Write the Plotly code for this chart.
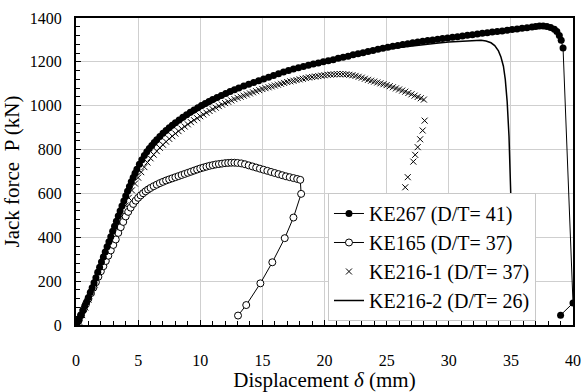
import plotly.graph_objects as go

# ---- data ----
ke267_x = [0, 0.1, 0.25, 0.4, 0.55, 0.7, 0.85, 1.0, 1.15, 1.3, 1.45, 1.6, 1.75, 1.9, 2.05, 2.2, 2.35, 2.5,
           2.65, 2.8, 2.95, 3.1, 3.25, 3.4, 3.55, 3.7, 3.85, 4.0, 4.15, 4.3, 4.45, 4.6, 4.75, 4.9, 5.1, 5.3,
           5.5, 5.7, 5.9, 6.1, 6.3, 6.5, 6.75, 7.0, 7.25, 7.5, 7.75, 8.0, 8.3, 8.6, 8.9, 9.2, 9.5, 9.8, 10.1,
           10.4, 10.7, 11.0, 11.35, 11.7, 12.05, 12.4, 12.75, 13.1, 13.5, 13.9, 14.3, 14.7, 15.1, 15.5, 15.9,
           16.3, 16.7, 17.1, 17.5, 17.9, 18.3, 18.7, 19.1, 19.5, 19.9, 20.3, 20.7, 21.1, 21.5, 21.9, 22.3,
           22.7, 23.1, 23.5, 23.9, 24.3, 24.7, 25.1, 25.5, 25.9, 26.3, 26.7, 27.1, 27.5, 27.9, 28.3, 28.7,
           29.1, 29.5, 29.9, 30.3, 30.7, 31.1, 31.5, 31.9, 32.3, 32.7, 33.1, 33.5, 33.9, 34.3, 34.7, 35.1,
           35.5, 35.9, 36.3, 36.7, 37.0, 37.3, 37.6, 37.9, 38.2, 38.5, 38.7, 38.9, 39.05, 39.2, 40.0, 39.0]
ke267_y = [0, 10, 25, 45, 65, 85, 105, 125, 148, 170, 193, 216, 240, 263, 287, 310, 333, 357,
           380, 403, 427, 450, 473, 497, 520, 543, 566, 588, 610, 632, 653, 673, 692, 710, 733, 754,
           773, 790, 805, 819, 832, 845, 860, 874, 887, 899, 911, 922, 935, 947, 959, 970, 981, 991, 1001,
           1010, 1019, 1028, 1038, 1047, 1056, 1065, 1073, 1081, 1090, 1098, 1106, 1114, 1122, 1130, 1138,
           1146, 1154, 1161, 1167, 1173, 1179, 1185, 1190, 1195, 1200, 1205, 1210, 1216, 1221, 1226, 1232,
           1237, 1242, 1247, 1252, 1257, 1262, 1267, 1271, 1275, 1279, 1283, 1287, 1290, 1294, 1297, 1300,
           1303, 1306, 1309, 1312, 1315, 1318, 1321, 1324, 1327, 1330, 1333, 1336, 1339, 1341, 1344, 1347,
           1350, 1353, 1356, 1359, 1361, 1363, 1363, 1361, 1357, 1349, 1338, 1320, 1298, 1263, 100, 45]

ke165_x = [0, 0.2, 0.4, 0.6, 0.8, 1.0, 1.2, 1.4, 1.6, 1.8, 2.0, 2.2, 2.4, 2.6, 2.8, 3.0, 3.2, 3.4, 3.6, 3.8,
           4.0, 4.2, 4.4, 4.6, 4.8, 5.0, 5.2, 5.4, 5.6, 5.8, 6.0, 6.25, 6.5, 6.75, 7.0, 7.25, 7.5, 7.75, 8.0,
           8.25, 8.5, 8.75, 9.0, 9.25, 9.5, 9.75, 10.0, 10.25, 10.5, 10.75, 11.0, 11.25, 11.5, 11.75, 12.0,
           12.25, 12.5, 12.75, 13.0, 13.3, 13.6, 13.9, 14.2, 14.5, 14.8, 15.1, 15.4, 15.7, 16.0, 16.3, 16.6,
           16.9, 17.2, 17.5, 17.8, 18.05, 18.12, 17.5, 16.8, 15.8, 14.84, 13.7, 13.04]
ke165_y = [0, 20, 45, 70, 95, 120, 145, 170, 195, 220, 245, 268, 292, 316, 340, 365, 390, 420, 446, 470,
           495, 516, 535, 552, 567, 580, 591, 601, 610, 618, 625, 633, 640, 647, 653, 659, 664, 669, 674,
           679, 684, 689, 694, 699, 704, 709, 714, 718, 722, 726, 729, 732, 734, 736, 738,
           739, 740, 740, 739, 737, 733, 728, 723, 718, 713, 708, 703, 698, 693, 688, 683,
           678, 674, 670, 666, 662, 598, 490, 396, 286, 190, 91, 43]

ke2161_x = [0, 0.25, 0.5, 0.75, 1.0, 1.25, 1.5, 1.75, 2.0, 2.25, 2.5, 2.75, 3.0, 3.25, 3.5, 3.75, 4.0, 4.25,
            4.5, 4.75, 5.0, 5.25, 5.5, 5.75, 6.0, 6.25, 6.5, 6.75, 7.0, 7.25, 7.5, 7.75, 8.0, 8.25, 8.5, 8.75,
            9.0, 9.25, 9.5, 9.75, 10.0, 10.25, 10.5, 10.75, 11.0, 11.25, 11.5, 11.75, 12.0, 12.25, 12.5, 12.75,
            13.0, 13.25, 13.5, 13.75, 14.0, 14.25, 14.5, 14.75, 15.0, 15.25, 15.5, 15.75, 16.0, 16.25, 16.5,
            16.75, 17.0, 17.25, 17.5, 17.75, 18.0, 18.25, 18.5, 18.75, 19.0, 19.25, 19.5, 19.75, 20.0, 20.25,
            20.5, 20.75, 21.0, 21.25, 21.5, 21.75, 22.0, 22.25, 22.5, 22.75, 23.0, 23.25, 23.5, 23.75, 24.0,
            24.25, 24.5, 24.75, 25.0, 25.25, 25.5, 25.75, 26.0, 26.25, 26.5, 26.75, 27.0, 27.25, 27.5, 27.75,
            28.0, 28.06, 27.9, 27.7, 27.5, 27.3, 27.15, 26.7, 26.5, 26.1, 22.2, 21.6]
ke2161_y = [0, 15, 45, 80, 115, 150, 185, 220, 255, 290, 325, 360, 395, 430, 465, 500, 545, 580,
            614, 645, 672, 697, 720, 741, 760, 777, 793, 808, 822, 836, 849, 861, 873, 884, 895, 905,
            915, 925, 934, 943, 952, 960, 968, 976, 984, 991, 998, 1005, 1012, 1018, 1024, 1030,
            1036, 1041, 1046, 1051, 1056, 1061, 1066, 1071, 1076, 1080, 1084, 1088, 1092, 1096, 1100,
            1104, 1108, 1111, 1114, 1117, 1120, 1123, 1126, 1129, 1131, 1133, 1135, 1137, 1139, 1141,
            1142, 1143, 1144, 1144, 1144, 1143, 1141, 1139, 1136, 1132, 1128, 1123, 1118, 1114, 1110,
            1106, 1102, 1098, 1094, 1089, 1084, 1079, 1074, 1069, 1064, 1058, 1052, 1046, 1040, 1034,
            1028, 932, 887, 847, 811, 776, 745, 674, 628, 574, 81, 41]

ke2162_x = [0, 0.5, 1.0, 1.5, 2.0, 2.5, 3.0, 3.5, 4.0, 4.5, 5.0, 5.5, 6.0, 7.0, 8.0, 9.0, 10, 11, 12, 13, 14,
            15, 16, 17, 18, 19, 20, 21, 22, 23, 24, 25, 26, 27, 28, 29, 30, 31, 32, 32.6, 33.0, 33.4, 33.7,
            34.0, 34.2, 34.4, 34.55, 34.7, 34.85, 35.0, 35.15]
ke2162_y = [0, 55, 125, 200, 275, 350, 430, 510, 585, 655, 715, 765, 805, 865, 910, 950, 985, 1015, 1045,
            1070, 1093, 1115, 1135, 1155, 1172, 1188, 1203, 1216, 1228, 1239, 1249, 1258, 1266, 1273, 1279,
            1285, 1290, 1294, 1297, 1298, 1295, 1287, 1274, 1250, 1222, 1180, 1120, 1020, 860, 620, 300]

names = ["KE267 (D/T= 41)", "KE165 (D/T= 37)", "KE216-1 (D/T= 37)", "KE216-2 (D/T= 26)"]
x_ticks = [0, 5, 10, 15, 20, 25, 30, 35, 40]
y_ticks = [0, 200, 400, 600, 800, 1000, 1200, 1400]

FONT = "Liberation Serif"

fig = go.Figure()
fig.add_trace(go.Scatter(x=ke2162_x, y=ke2162_y, mode="lines", name=names[3], legendrank=4,
                         line=dict(color="black", width=1.5)))
fig.add_trace(go.Scatter(x=ke2161_x, y=ke2161_y, mode="markers", name=names[2], legendrank=3,
                         marker=dict(symbol="x-thin", size=6, color="black",
                                     line=dict(color="black", width=1))))
fig.add_trace(go.Scatter(x=ke165_x, y=ke165_y, mode="lines+markers", name=names[1], legendrank=2,
                         line=dict(color="black", width=1),
                         marker=dict(symbol="circle", size=7, color="white",
                                     line=dict(color="black", width=1))))
fig.add_trace(go.Scatter(x=ke267_x, y=ke267_y, mode="lines+markers", name=names[0], legendrank=1,
                         line=dict(color="black", width=1),
                         marker=dict(symbol="circle", size=7, color="black")))

axis_common = dict(showline=True, linecolor="black", linewidth=2, mirror=True,
                   showgrid=True, gridcolor="#cfcfcf", gridwidth=1, zeroline=False,
                   ticks="inside", ticklen=5, tickwidth=1, tickcolor="black", automargin=False,
                   tickfont=dict(family=FONT, size=16, color="black"))

fig.update_xaxes(range=[0, 40], tickvals=x_ticks, ticklabelstandoff=20,
                 minor=dict(dtick=1, ticks="inside", ticklen=4, tickcolor="black", showgrid=False),
                 title=dict(text="Displacement <i>δ</i> (mm)", font=dict(family=FONT, size=21, color="black"),
                            standoff=6),
                 **axis_common)
fig.update_yaxes(range=[0, 1400], tickvals=y_ticks, ticklabelstandoff=9,
                 minor=dict(dtick=40, ticks="inside", ticklen=4, tickcolor="black", showgrid=False),
                 title=dict(text="Jack force\u00a0 P (kN)" + "\u00a0" * 7,
                            font=dict(family=FONT, size=21, color="black"), standoff=4),
                 **axis_common)

fig.update_layout(
    width=583, height=392,
    margin=dict(l=76, r=10, t=18, b=67),
    paper_bgcolor="white", plot_bgcolor="white",
    font=dict(family=FONT, color="black"),
    showlegend=True,
    legend=dict(x=0.507, y=0.2215, xanchor="left", yanchor="middle",
                bgcolor="white", bordercolor="#c8c8c8", borderwidth=1,
                font=dict(family=FONT, size=20, color="black"),
                itemwidth=30, tracegroupgap=0, itemsizing="trace"),
)

fig.write_html("out.html")
